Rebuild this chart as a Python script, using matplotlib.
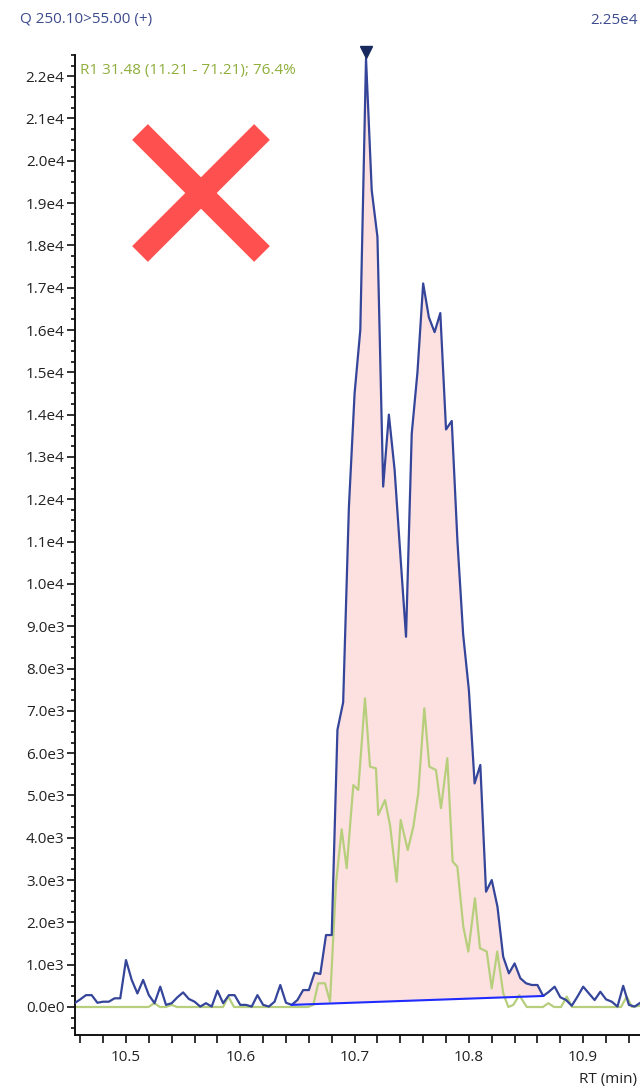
import numpy as np
import matplotlib
matplotlib.use("Agg")
import matplotlib.pyplot as plt
import matplotlib.transforms as mtransforms
from matplotlib.lines import Line2D
from matplotlib.ticker import MultipleLocator, FuncFormatter

plt.rcParams['font.family'] = ['Open Sans', 'DejaVu Sans']

# quantifier trace (sampled every 0.005 min from 10.455)
rt_start = 10.455
rt_step = 0.005
quant = [90, 180, 280, 280, 100, 125, 125, 205, 205, 1110,
         640, 320, 640, 280, 90, 480, 50, 90, 230, 345,
         190, 125, 10, 90, 10, 385, 90, 280, 280, 50,
         50, 10, 280, 50, 10, 125, 520, 100, 50, 165,
         400, 400, 810, 780, 1700, 1700, 6550, 7200, 11800, 14500,
         16000, 22420, 19300, 18200, 12300, 14000, 12700, 10700, 8750, 13550,
         15000, 17100, 16300, 15950, 16400, 13650, 13850, 11000, 8800, 7490,
         5285, 5720, 2725, 3000, 2370, 1190, 795, 1030, 680, 560,
         520, 520, 260, 360, 480, 230, 165, 30, 245, 480,
         320, 165, 360, 180, 125, 10, 500, 50, 10, 100]

# qualifier trace
qual_rt = [10.4554, 10.5197, 10.5248, 10.5297, 10.535, 10.540, 10.5446, 10.5849,
           10.5895, 10.5945, 10.6592, 10.6639, 10.6682, 10.6741, 10.6785, 10.6837,
           10.6887, 10.6931, 10.6989, 10.7032, 10.7091, 10.7135, 10.7187, 10.7207,
           10.7266, 10.7310, 10.7368, 10.7403, 10.7465, 10.7514, 10.7557, 10.7610,
           10.7654, 10.7712, 10.7756, 10.7811, 10.7858, 10.7899, 10.7951, 10.7995,
           10.8053, 10.8097, 10.8156, 10.8200, 10.8248, 10.8301, 10.8345, 10.8389,
           10.8441, 10.8506, 10.8648, 10.8695, 10.8745, 10.8806, 10.8856, 10.8902,
           10.9331, 10.9381, 10.9427, 10.9497]
qual = [0, 0, 90, 0, 0, 50, 0, 0,
        245, 0, 0, 50, 560, 560, 125, 2900,
        4200, 3280, 5245, 5130, 7295, 5680, 5640, 4540,
        4890, 4300, 2960, 4420, 3710, 4260, 5050, 7060,
        5680, 5600, 4700, 5880, 3435, 3315, 1900, 1310,
        2570, 1390, 1310, 440, 1310, 320, 0, 50,
        280, 0, 0, 90, 0, 0, 245, 0,
        0, 245, 0, 30]

# integration limits (sample indices of the quantifier trace)
peak_start = 38
peak_end = 82
apex = 51

title = "Q 250.10>55.00 (+)"
max_label = "2.25e4"
ratio_label = "R1 31.48 (11.21 - 71.21); 76.4%"
x_label = "RT (min)"

rt = rt_start + rt_step * np.arange(len(quant))
quant = np.array(quant, dtype=float)

W, H = 640, 1090
fs = 11
fig = plt.figure(figsize=(W / 100, H / 100), dpi=100)
ax = fig.add_axes([75 / W, 55 / H, 565 / W, 980 / H])

# baseline + filled area
bx = [rt[peak_start], rt[peak_end]]
by = [quant[peak_start], quant[peak_end]]
seg = slice(peak_start, peak_end + 1)
base = np.interp(rt[seg], bx, by)
ax.fill_between(rt[seg], base, quant[seg], color='#fde1e1', lw=0, zorder=1)

ax.plot(qual_rt, qual, color='#b7cf7d', lw=1.6, zorder=2)
ax.plot(rt, quant, color='#34459a', lw=1.6, zorder=3)
ax.plot(bx, by, color='#1f2bff', lw=1.5, zorder=4)

# apex marker
off = mtransforms.offset_copy(ax.transData, fig=fig, x=0, y=4.5, units='points')
ax.plot(rt[apex], quant[apex], marker='v', color='#17295e', ms=8,
        transform=off, clip_on=False, zorder=5)

ax.set_xlim(10.4554, 10.9497)
ax.set_ylim(-662, 22500)

for s in ['top', 'right']:
    ax.spines[s].set_visible(False)
for s in ['left', 'bottom']:
    ax.spines[s].set_linewidth(1.4)
    ax.spines[s].set_color('#111111')


def sci(v, pos):
    if v == 0:
        return "0.0e0"
    e = int(np.floor(np.log10(abs(v)) + 1e-9))
    return f"{v / 10 ** e:.1f}e{e}"


ax.yaxis.set_major_locator(MultipleLocator(1000))
ax.yaxis.set_minor_locator(MultipleLocator(250))
ax.yaxis.set_major_formatter(FuncFormatter(sci))
ax.xaxis.set_major_locator(MultipleLocator(0.1))
ax.xaxis.set_minor_locator(MultipleLocator(0.02))
ax.xaxis.set_major_formatter(FuncFormatter(lambda v, p: f"{v:.1f}"))

ax.tick_params(axis='y', which='major', length=5.5, width=1.2, pad=2,
               labelsize=fs, colors='#111111', labelcolor='#222222')
ax.tick_params(axis='y', which='minor', length=3, width=1.2, colors='#111111')
ax.tick_params(axis='x', which='both', length=5.5, width=1.2, pad=5,
               labelsize=fs, colors='#111111', labelcolor='#222222')

# header and labels
fig.text(20 / W, 1 - 20 / H, title, color='#3d4c8e', fontsize=fs, va='center', ha='left')
fig.text(638 / W, 1 - 20 / H, max_label, color='#3d4c8e', fontsize=fs, va='center', ha='right')
fig.text(80 / W, 1 - 70 / H, ratio_label, color='#8fae3c', fontsize=fs, va='center', ha='left')
fig.text(637 / W, 1 - 1080 / H, x_label, color='#222222', fontsize=fs, va='center', ha='right')

# red cross
for (x0, y0), (x1, y1) in [((140, 132), (262, 254)), ((140, 254), (262, 132))]:
    fig.add_artist(Line2D([x0 / W, x1 / W], [1 - y0 / H, 1 - y1 / H],
                          transform=fig.transFigure, color='#ff5050',
                          lw=16, solid_capstyle='butt'))

fig.savefig('out.png', dpi=100)
